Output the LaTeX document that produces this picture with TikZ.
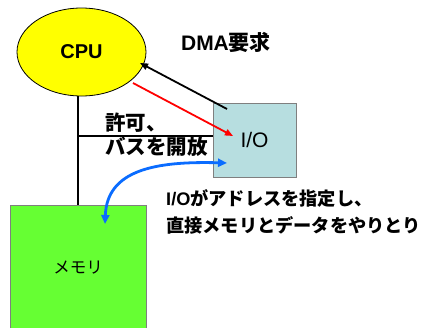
\documentclass[tikz,border=0pt]{standalone}
\usepackage{fontspec}
\setmainfont{Liberation Sans}
\newfontfamily\jp{Noto Sans CJK JP}
\usetikzlibrary{shapes.geometric,arrows.meta}
\definecolor{cpuyellow}{HTML}{FFFF00}
\definecolor{iocyan}{HTML}{B7DEE0}
\definecolor{memgreen}{HTML}{66FF33}
\definecolor{boxgray}{HTML}{7F7F7F}
\definecolor{flowblue}{HTML}{0A6CFF}
\begin{document}
\begin{tikzpicture}[x=1pt,y=-1pt,
  bus/.style={line width=1.8pt,black},
  tipend/.style={-{Triangle[length=8pt,width=6.5pt]}},
  unit/.style={draw=boxgray,line width=1pt,inner sep=0pt},
  txt/.style={inner sep=0pt}]
\useasboundingbox (0,0) rectangle (427,327);
\clip (0,0) rectangle (427,327);
% units
\node[ellipse,draw=black,line width=0.8pt,fill=cpuyellow,minimum width=129pt,minimum height=88pt,inner sep=0pt,
  font={\fontsize{20}{24}\selectfont\bfseries}] (cpu) at (81.5,52) {CPU};
\node[unit,fill=iocyan,minimum width=83pt,minimum height=74pt,
  font={\fontsize{21}{25}\selectfont}] (io) at (254.5,140) {I/O};
\node[unit,fill=memgreen,minimum width=136pt,minimum height=126pt,
  font={\fontsize{16.5}{20}\selectfont\jp}] (mem) at (78,268) {メモリ};
% bus
\coordinate (busJoint) at (78,136);
\draw[bus] (cpu.south -| mem.north) -- (mem.north);
\draw[bus] (busJoint) -- (busJoint -| io.west);
% DMA request
\coordinate (reqStart) at (227,109);
\coordinate (reqEnd) at (140,63);
\draw[bus,tipend] (reqStart) -- (reqEnd);
% grant
\coordinate (grantStart) at (133,83);
\coordinate (grantEnd) at (233,136);
\draw[red,line width=1.8pt,tipend] (grantStart) -- (grantEnd);
% transfer
\coordinate (xferIO) at (227,163);
\coordinate (xferMem) at (105,224);
\draw[flowblue,line width=2.8pt,{Triangle[length=9pt,width=8pt]}-{Triangle[length=9pt,width=8pt]}]
  (xferIO) .. controls (155,161) and (107,170) .. (xferMem);
% labels
\node[txt,font={\fontsize{21}{25}\selectfont\bfseries}] (dmaLabel) at (226,42) {DMA{\jp 要求}};
\node[txt,anchor=west,align=left,font={\fontsize{20.5}{24}\selectfont\bfseries\jp}] (grantLabel) at (105,135)
  {許可、\\バスを開放};
\node[txt,anchor=west,align=left,font={\fontsize{18.2}{27}\selectfont\bfseries}] (xferLabel) at (166,211.5)
  {I/O{\jp がアドレスを指定し、}\\{\jp 直接メモリとデータをやりとり}};
\end{tikzpicture}
\end{document}
